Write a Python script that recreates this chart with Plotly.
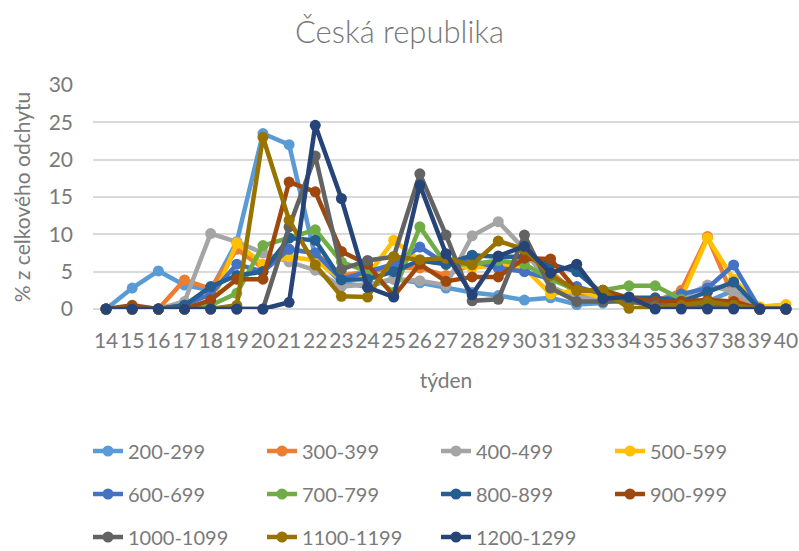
import plotly.graph_objects as go

weeks = list(range(14, 41))

s200 = [0, 2.8, 5.1, 3.2, 2.5, 9.0, 23.5, 22.0, 7.0, 3.5, 3.0, 4.0, 3.5, 2.8, 2.2, 1.8, 1.2, 1.5, 0.6, 0.8, 1.6, 0.3, 0.5, 1.0, 2.5, 0, 0]
s300 = [0, 0.3, 0, 3.9, 2.7, 8.0, 5.5, 8.0, 7.5, 4.5, 5.0, 5.5, 5.5, 4.5, 6.0, 5.5, 7.0, 5.0, 2.0, 1.5, 1.0, 1.0, 2.5, 9.7, 1.5, 0, 0]
s400 = [0, 0, 0, 1.0, 10.1, 9.0, 7.5, 6.3, 5.2, 3.0, 3.3, 4.0, 3.8, 3.2, 9.8, 11.7, 8.0, 3.0, 1.5, 1.5, 1.0, 0.5, 1.5, 3.2, 2.3, 0, 0]
s500 = [0, 0, 0, 0, 0.5, 8.8, 6.0, 7.0, 6.5, 4.0, 4.5, 9.2, 6.5, 6.0, 5.5, 6.0, 5.5, 2.0, 2.5, 1.5, 1.5, 1.0, 1.5, 9.5, 4.0, 0.3, 0.6]
s600 = [0, 0, 0, 0.5, 2.0, 6.0, 5.0, 8.0, 7.5, 4.0, 5.0, 6.0, 8.3, 6.0, 6.5, 5.5, 5.0, 4.0, 3.0, 2.0, 1.5, 1.0, 2.0, 2.8, 5.9, 0, 0]
s700 = [0, 0, 0, 0, 0.5, 2.1, 8.5, 9.5, 10.6, 6.3, 5.0, 2.2, 11.0, 6.0, 6.0, 6.5, 6.0, 4.0, 2.5, 2.5, 3.1, 3.1, 1.3, 1.0, 0.5, 0, 0]
s800 = [0, 0, 0, 0.5, 3.0, 4.5, 5.0, 9.5, 9.2, 3.9, 4.0, 5.0, 6.5, 6.0, 7.2, 7.0, 7.0, 6.0, 5.0, 2.0, 1.5, 1.5, 1.0, 2.3, 3.6, 0, 0]
s900 = [0, 0.5, 0, 0, 1.2, 4.0, 4.0, 17.0, 15.7, 7.7, 6.0, 1.7, 6.0, 3.7, 4.3, 4.3, 6.8, 6.7, 2.5, 2.5, 1.5, 1.0, 1.0, 1.2, 1.0, 0, 0]
s1000 = [0, 0, 0, 0, 0, 0, 0, 11.0, 20.5, 5.3, 6.5, 7.0, 18.1, 9.9, 1.1, 1.3, 9.9, 2.8, 1.0, 1.0, 1.0, 0.5, 0.3, 0.3, 0.3, 0, 0]
s1100 = [0, 0, 0, 0, 0, 0.5, 23.0, 11.9, 5.9, 1.7, 1.6, 7.0, 6.6, 6.8, 5.9, 9.1, 8.0, 4.5, 2.5, 2.5, 0.1, 0.2, 0.5, 1.0, 0.5, 0, 0]
s1200 = [0, 0, 0, 0, 0, 0, 0, 0.9, 24.6, 14.8, 2.9, 1.6, 16.6, 7.4, 1.9, 7.1, 8.4, 4.8, 6.0, 1.4, 1.6, 0, 0, 0, 0, 0, 0]

names = ["200-299", "300-399", "400-499", "500-599", "600-699", "700-799",
         "800-899", "900-999", "1000-1099", "1100-1199", "1200-1299"]
series = [s200, s300, s400, s500, s600, s700, s800, s900, s1000, s1100, s1200]
colors = ["#5B9BD5", "#ED7D31", "#A5A5A5", "#FFC000", "#4472C4", "#70AD47",
          "#255E91", "#9E480E", "#636363", "#997300", "#264478"]

FONT = "Lato"
TXT = "#7a7a7a"

fig = go.Figure()
for i, (n, s, c) in enumerate(zip(names, series, colors)):
    leg = "legend" if i < 4 else ("legend2" if i < 8 else "legend3")
    fig.add_trace(go.Scatter(
        x=weeks, y=s, name=n, mode="lines+markers",
        line=dict(color=c, width=4.5),
        marker=dict(color=c, size=11),
        cliponaxis=False, legend=leg,
    ))

leg_common = dict(orientation="h", xref="container", yref="container",
                  x=88 / 799, xanchor="left", yanchor="middle",
                  font=dict(family=FONT, size=20, color=TXT),
                  entrywidth=129, entrywidthmode="pixels",
                  bgcolor="rgba(0,0,0,0)")

fig.update_layout(
    width=799, height=551,
    margin=dict(l=93, r=0, t=85, b=242),
    paper_bgcolor="white", plot_bgcolor="white",
    title=dict(text="Česká republika", x=0.5, xanchor="center",
               xref="container", yref="container", y=1 - 32 / 551, yanchor="middle",
               font=dict(family=FONT, size=31, color="#777777", weight=300)),
    xaxis=dict(range=[13.5, 40.5], tickmode="array", tickvals=weeks,
               ticktext=[str(w) for w in weeks], tickangle=0,
               showgrid=False, zeroline=False, showline=False,
               tickfont=dict(family=FONT, size=21, color=TXT),
               ticklabelstandoff=17,
               title=dict(text="týden", font=dict(family=FONT, size=21, color=TXT),
                          standoff=22)),
    yaxis=dict(range=[0, 30], tickvals=[0, 5, 10, 15, 20, 25, 30],
               showgrid=True, gridcolor="#d9d9d9", gridwidth=1.5,
               zeroline=True, zerolinecolor="#d9d9d9", zerolinewidth=1.5,
               showline=False,
               tickfont=dict(family=FONT, size=21, color=TXT),
               ticklabelstandoff=19,
               title=dict(text="% z celkového odchytu",
                          font=dict(family=FONT, size=21, color=TXT), standoff=12)),
    legend=dict(**leg_common, y=1 - 451 / 551),
    legend2=dict(**leg_common, y=1 - 494 / 551),
    legend3=dict(**leg_common, y=1 - 537 / 551),
    showlegend=True,
)

fig.write_html("out.html",
               config={"displayModeBar": False},
               post_script="document.body.style.margin='0';document.body.style.padding='0';")
